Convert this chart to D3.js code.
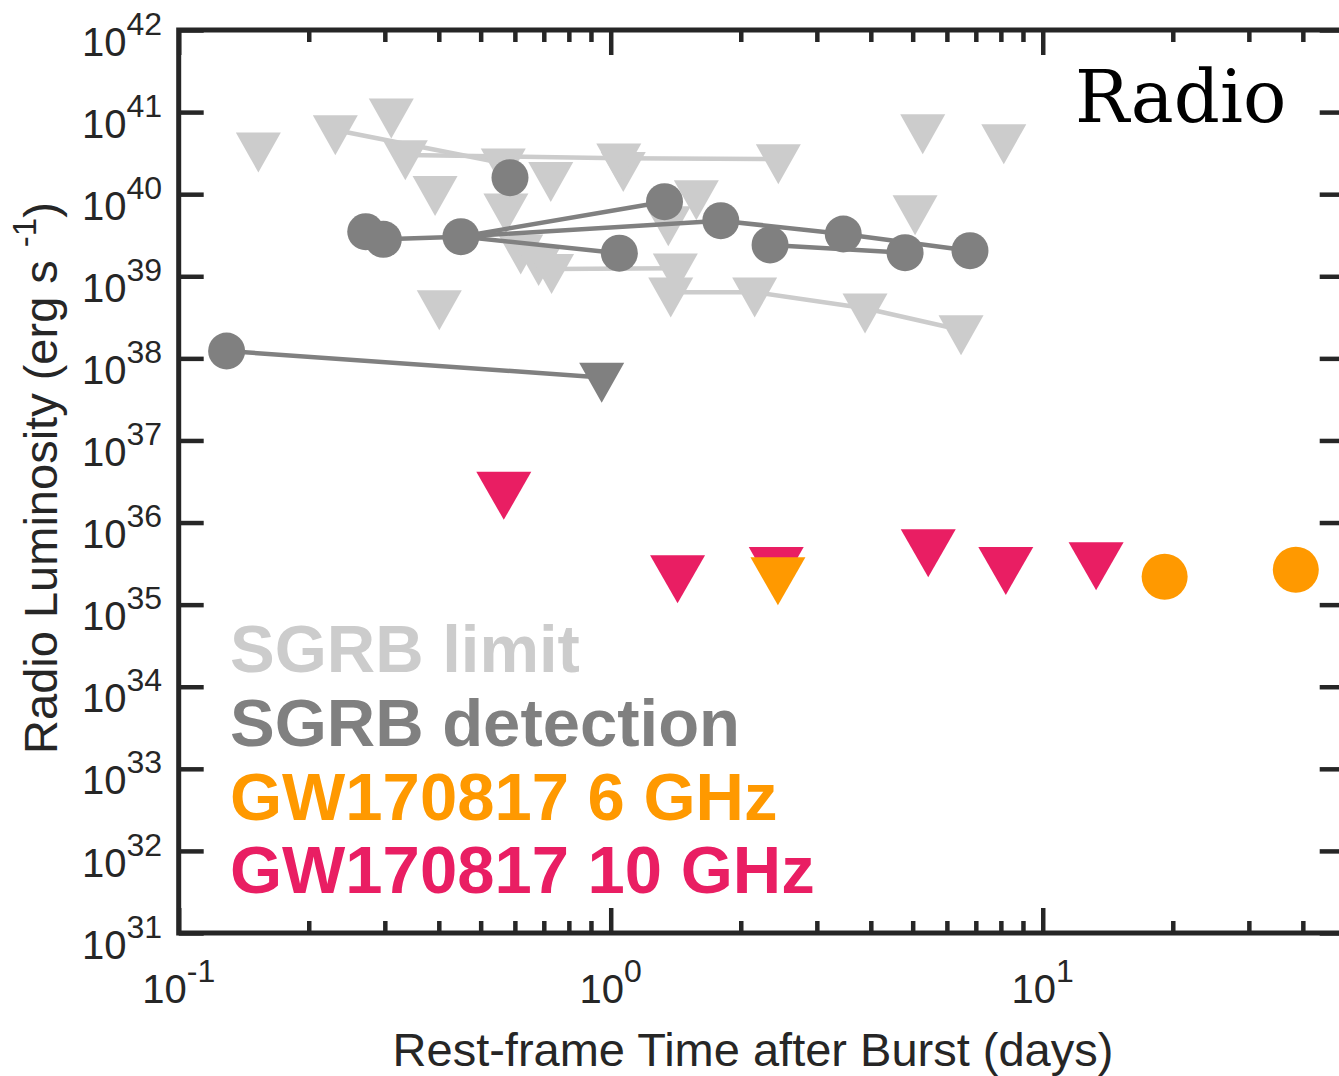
<!DOCTYPE html>
<html>
<head>
<meta charset="utf-8">
<style>
  body { margin: 0; background: #fff; font-family: "Liberation Sans", Helvetica, Arial, sans-serif; }
  .ax line { stroke: #262626; stroke-width: 4.5px; }
  .ax path { display: none; }
</style>
</head>
<body>
<script src="https://cdn.jsdelivr.net/npm/d3@7"></script>
<script>
// SGRB upper limits joined by a line (rest-frame days, erg/s)
var limitLines = [
  [[0.2304, 6.05e40], [0.564, 2.38e40]],
  [[0.3346, 3.00e40], [1.044, 2.74e40], [2.443, 2.68e40]],
  [[0.7295, 1.23e39], [1.411, 1.25e39]],
  [[1.377, 6.38e38], [2.154, 6.38e38], [3.879, 4.08e38], [6.47, 2.22e38]]
];
// single SGRB upper limits
var limitSingles = [
  [0.1529, 3.73e40], [0.3105, 9.67e40], [0.3921, 1.10e40], [0.401, 4.47e38],
  [0.572, 6.74e39], [0.7265, 1.63e40], [1.069, 2.16e40], [1.578, 9.78e39],
  [1.359, 4.72e39], [0.619, 2.13e39], [0.681, 1.54e39], [5.275, 6.23e40],
  [8.125, 4.70e40], [5.064, 6.42e39]
];
// SGRB detections and the lines between them
var detLines = [
  [[0.1291, 1.23e38], [0.953, 5.85e37]],
  [[0.2976, 2.82e39], [0.450, 3.04e39], [1.047, 1.91e39]],
  [[0.450, 3.04e39], [1.332, 8.10e39]],
  [[0.450, 3.04e39], [1.798, 4.76e39], [3.454, 3.27e39], [6.786, 2.05e39]],
  [[2.338, 2.41e39], [4.801, 1.94e39]]
];
var detPoints = [
  [0.1291, 1.23e38], [0.271, 3.49e39], [0.2976, 2.82e39], [0.450, 3.04e39],
  [0.5846, 1.59e40], [1.047, 1.91e39], [1.332, 8.10e39], [1.798, 4.76e39],
  [2.338, 2.41e39], [3.454, 3.27e39], [4.801, 1.94e39], [6.786, 2.05e39]
];
var detLimits = [[0.953, 5.85e37]];
// GW170817
var gw10Limits = [[0.5656, 2.52e36], [1.428, 2.43e35], [2.416, 3.05e35], [5.432, 5.05e35], [8.213, 3.07e35], [13.29, 3.50e35]];
var gw6Limits = [[2.438, 2.30e35]];
var gw6Points = [[19.15, 2.19e35], [38.53, 2.66e35]];

var xMajor = [0.1, 1, 10];
var xLabels = ["-1", "0", "1"];
var yMajor = d3.range(31, 43);
var legendItems = ["SGRB limit", "SGRB detection", "GW170817 6 GHz", "GW170817 10 GHz"];

var cLight = "#cccccc", cDark = "#808080", cOrange = "#ff9900", cPink = "#e91e63", cAxis = "#262626";

var W = 1339, H = 1076;
var x0 = 178.7, x1 = 1344.7, y0 = 30, y1 = 933;

var svg = d3.select("body").append("svg").attr("width", W).attr("height", H);

var x = d3.scaleLog().domain([0.1, 50]).range([x0, x1]);
var y = d3.scaleLog().domain([1e31, 1e42]).range([y1, y0]);

var xMinor = [];
[0.1, 1, 10].forEach(function(d) {
  for (var k = 2; k <= 9; k++) if (d * k < 50) xMinor.push(d * k);
});
var yTicks = yMajor.map(function(e) { return Math.pow(10, e); });

// plot content
var plot = svg.append("g");
var line = d3.line().x(function(d) { return x(d[0]); }).y(function(d) { return y(d[1]); });

function tri(w, h) {
  var t = -0.37 * h, b = 0.63 * h;
  return "M" + (-w / 2) + "," + t + "L" + (w / 2) + "," + t + "L0," + b + "Z";
}

plot.selectAll(".limline").data(limitLines).enter().append("path")
  .attr("d", line).attr("fill", "none").attr("stroke", cLight).attr("stroke-width", 4.5);

var allLimits = limitSingles.concat(d3.merge(limitLines));
plot.selectAll(".lim").data(allLimits).enter().append("path")
  .attr("d", tri(45, 40)).attr("fill", cLight)
  .attr("transform", function(d) { return "translate(" + x(d[0]) + "," + y(d[1]) + ")"; });

plot.selectAll(".detline").data(detLines).enter().append("path")
  .attr("d", line).attr("fill", "none").attr("stroke", cDark).attr("stroke-width", 4.5);

plot.selectAll(".detlim").data(detLimits).enter().append("path")
  .attr("d", tri(45, 40)).attr("fill", cDark)
  .attr("transform", function(d) { return "translate(" + x(d[0]) + "," + y(d[1]) + ")"; });

plot.selectAll(".det").data(detPoints).enter().append("circle")
  .attr("cx", function(d) { return x(d[0]); }).attr("cy", function(d) { return y(d[1]); })
  .attr("r", 18.5).attr("fill", cDark);

plot.selectAll(".gw10").data(gw10Limits).enter().append("path")
  .attr("d", tri(55, 48)).attr("fill", cPink)
  .attr("transform", function(d) { return "translate(" + x(d[0]) + "," + y(d[1]) + ")"; });

plot.selectAll(".gw6l").data(gw6Limits).enter().append("path")
  .attr("d", tri(55, 48)).attr("fill", cOrange)
  .attr("transform", function(d) { return "translate(" + x(d[0]) + "," + y(d[1]) + ")"; });

plot.selectAll(".gw6").data(gw6Points).enter().append("circle")
  .attr("cx", function(d) { return x(d[0]); }).attr("cy", function(d) { return y(d[1]); })
  .attr("r", 23).attr("fill", cOrange);

// axes, ticks point inwards
function addAxis(ax, tx, ty) {
  svg.append("g").attr("class", "ax").attr("transform", "translate(" + tx + "," + ty + ")").call(ax);
}
addAxis(d3.axisBottom(x).tickValues(xMajor).tickSize(-25).tickFormat(""), 0, y1);
addAxis(d3.axisBottom(x).tickValues(xMinor).tickSize(-12).tickFormat(""), 0, y1);
addAxis(d3.axisTop(x).tickValues(xMajor).tickSize(-25).tickFormat(""), 0, y0);
addAxis(d3.axisTop(x).tickValues(xMinor).tickSize(-12).tickFormat(""), 0, y0);
addAxis(d3.axisLeft(y).tickValues(yTicks).tickSize(-25).tickFormat(""), x0, 0);
addAxis(d3.axisRight(y).tickValues(yTicks).tickSize(-25).tickFormat(""), x1, 0);

svg.append("rect").attr("x", x0).attr("y", y0).attr("width", x1 - x0).attr("height", y1 - y0)
  .attr("fill", "none").attr("stroke", cAxis).attr("stroke-width", 5);

// tick labels 10^n
svg.selectAll(".ylab").data(yMajor).enter().append("text")
  .attr("x", 162).attr("y", function(d) { return y(Math.pow(10, d)) + 25.6; })
  .attr("text-anchor", "end").attr("font-size", 40).attr("fill", cAxis)
  .each(function(d) {
    var t = d3.select(this);
    t.append("tspan").text("10");
    t.append("tspan").attr("dy", -21).attr("font-size", 32).text(d);
  });

svg.selectAll(".xlab").data(xMajor).enter().append("text")
  .attr("x", function(d) { return x(d); }).attr("y", 1003)
  .attr("text-anchor", "middle").attr("font-size", 40).attr("fill", cAxis)
  .each(function(d, i) {
    var t = d3.select(this);
    t.append("tspan").text("10");
    t.append("tspan").attr("dy", -21.5).attr("font-size", 32).text(xLabels[i]);
  });

// axis titles
svg.append("text").attr("x", 753).attr("y", 1066).attr("text-anchor", "middle")
  .attr("font-size", 47).attr("fill", cAxis).text("Rest-frame Time after Burst (days)");

var yt = svg.append("text").attr("transform", "translate(57,478) rotate(-90)")
  .attr("text-anchor", "middle").attr("font-size", 47).attr("fill", cAxis);
yt.append("tspan").text("Radio Luminosity (erg s ");
yt.append("tspan").attr("dy", -21).attr("font-size", 33).text("-1");
yt.append("tspan").attr("dy", 21).text(")");

// panel name
svg.append("text").attr("x", 1075).attr("y", 122).attr("font-family", "DejaVu Serif")
  .attr("font-size", 72).attr("fill", "#000").text("Radio");

// legend
var legendColors = [cLight, cDark, cOrange, cPink];
svg.selectAll(".leg").data(legendItems).enter().append("text")
  .attr("x", 230).attr("y", function(d, i) { return 672 + i * 73.8; })
  .attr("font-size", 67).attr("font-weight", "bold")
  .attr("fill", function(d, i) { return legendColors[i]; })
  .text(function(d) { return d; });
</script>
</body>
</html>
